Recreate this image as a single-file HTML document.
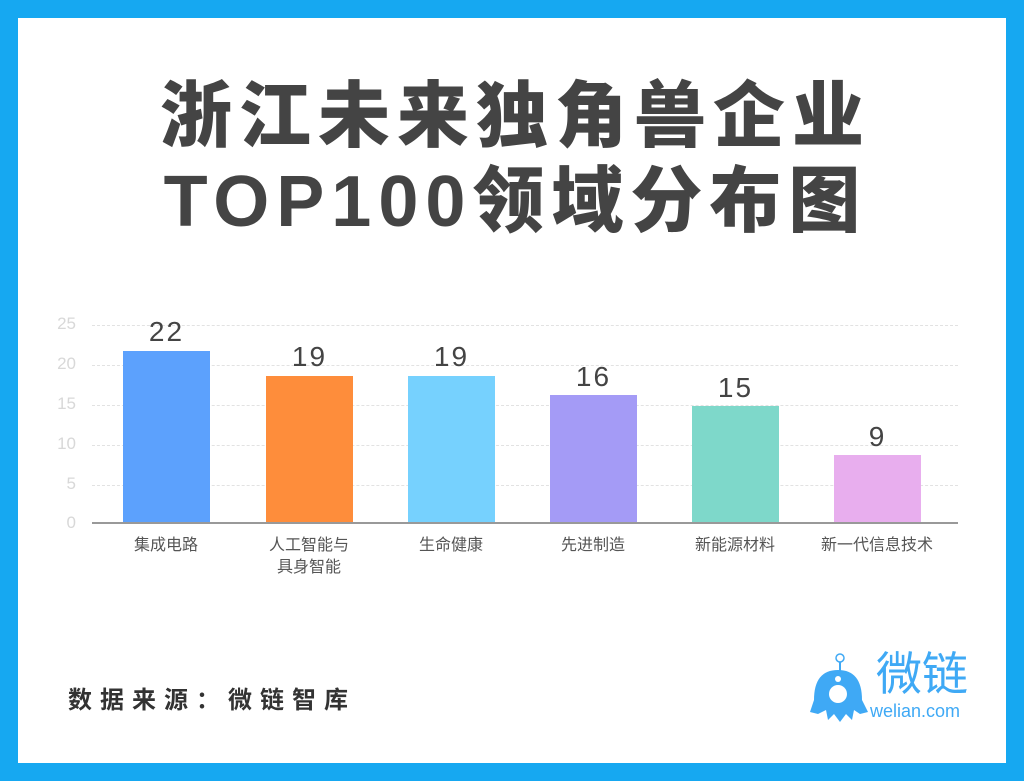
<!DOCTYPE html>
<html><head><meta charset="utf-8"><style>
body{margin:0;width:1024px;height:781px;background:#16a8f1;overflow:hidden;font-family:"Liberation Sans","Noto Sans CJK SC",sans-serif}
#w{position:absolute;left:18px;top:18px;width:988px;height:745px;background:#fff}
.t{position:absolute;left:0;width:1024px;text-align:center;font-weight:900;color:#444;font-size:72px;letter-spacing:7px;text-indent:7px}
.g{position:absolute;left:92px;width:866px;border-top:1px dashed #e2e2e2}
.yl{position:absolute;left:48px;width:28px;text-align:right;color:#d8d8d8;font-size:17px}
.b{position:absolute;width:87px}
.v{position:absolute;width:87px;text-align:center;color:#444;font-size:28px;letter-spacing:2px}
.x{position:absolute;width:142px;text-align:center;color:#555;font-size:16px;line-height:22px}
</style></head><body>
<div id="w"></div>
<div class="t" style="top:72px;line-height:90px">浙江未来独角兽企业</div>
<div class="t" style="top:157px;line-height:90px">TOP100领域分布图</div>
<div class="g" style="top:325px"></div><div class="g" style="top:365px"></div><div class="g" style="top:405px"></div><div class="g" style="top:445px"></div><div class="g" style="top:485px"></div>
<div class="yl" style="top:314px">25</div><div class="yl" style="top:354px">20</div><div class="yl" style="top:394px">15</div><div class="yl" style="top:434px">10</div><div class="yl" style="top:474px">5</div><div class="yl" style="top:513px">0</div>
<div class="b" style="left:123px;top:351px;height:172px;background:#5ca1fd"></div>
<div class="b" style="left:266px;top:376px;height:147px;background:#fe8d3b"></div>
<div class="b" style="left:408px;top:376px;height:147px;background:#76d1fe"></div>
<div class="b" style="left:550px;top:395px;height:128px;background:#a49bf6"></div>
<div class="b" style="left:692px;top:406px;height:117px;background:#7ed8ca"></div>
<div class="b" style="left:834px;top:455px;height:68px;background:#e8aeee"></div>
<div style="position:absolute;left:92px;top:522px;width:866px;height:2px;background:#999"></div>
<div class="v" style="left:123px;top:316px">22</div>
<div class="v" style="left:266px;top:341px">19</div>
<div class="v" style="left:408px;top:341px">19</div>
<div class="v" style="left:550px;top:361px">16</div>
<div class="v" style="left:692px;top:372px">15</div>
<div class="v" style="left:834px;top:421px">9</div>
<div class="x" style="left:95px;top:535px">集成电路</div>
<div class="x" style="left:238px;top:535px">人工智能与<br>具身智能</div>
<div class="x" style="left:380px;top:535px">生命健康</div>
<div class="x" style="left:522px;top:535px">先进制造</div>
<div class="x" style="left:664px;top:535px">新能源材料</div>
<div class="x" style="left:806px;top:535px">新一代信息技术</div>
<div style="position:absolute;left:68px;top:680px;font-size:24px;font-weight:bold;color:#333;letter-spacing:8px">数据来源：微链智库</div>
<svg style="position:absolute;left:806px;top:650px" width="66" height="80">
<circle cx="34" cy="8" r="4" fill="none" stroke="#3fa9f5" stroke-width="1.5"/>
<path d="M34 12 L34 22" stroke="#3fa9f5" stroke-width="2"/>
<path d="M8 50 Q8 20 32 20 Q56 20 56 50 L62 62 L54 64 L48 60 L46 70 L40 64 L34 72 L28 64 L22 70 L20 60 L12 64 L4 62 Z" fill="#3fa9f5"/>
<circle cx="32" cy="44" r="9" fill="#fff"/><circle cx="32" cy="29" r="3" fill="#fff"/>
</svg>
<div style="position:absolute;left:876px;top:648px;font-size:46px;color:#3fa9f5;line-height:52px">微链</div>
<div style="position:absolute;left:870px;top:701px;font-size:18px;color:#3fa9f5">welian.com</div>
</body></html>
